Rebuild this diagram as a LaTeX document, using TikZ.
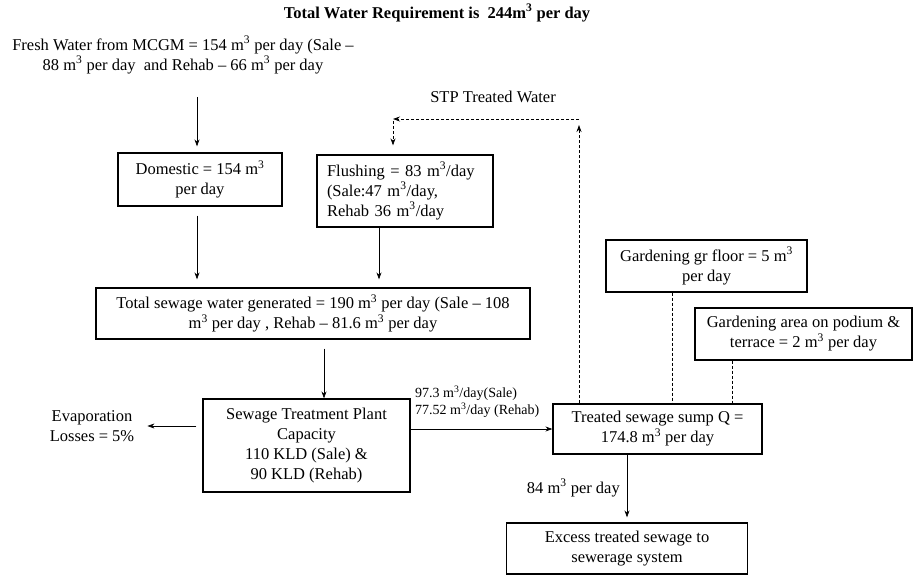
\documentclass[tikz,border=0pt]{standalone}
\usepackage{fontspec}
\setmainfont{Liberation Serif}
\usetikzlibrary{arrows.meta}

\begin{document}
\begin{tikzpicture}[x=1pt,y=-1pt,
  every node/.style={font=\fontsize{16.5}{20}\selectfont},
  box/.style={draw, line width=1.2pt, align=center, inner sep=0pt},
  flow/.style={line width=0.7pt, -{Stealth[length=7pt,width=5pt]}},
  dflow/.style={line width=0.7pt, dash pattern=on 3pt off 2pt, -{Stealth[length=7pt,width=5pt]}},
  dline/.style={line width=0.7pt, dash pattern=on 3pt off 2pt}]

\useasboundingbox (0,0) rectangle (915,575);

\node[font=\fontsize{16.5}{20}\selectfont\bfseries] (nodeTitle) at (437,13) {Total Water Requirement is\ \ 244m\textsuperscript{3} per day};
\node[align=center] (nodeFresh) at (183,55) {Fresh Water from MCGM = 154 m\textsuperscript{3} per day (Sale --\\88 m\textsuperscript{3} per day\ \ and Rehab -- 66 m\textsuperscript{3} per day};
\node (nodeStpWater) at (493,97) {STP Treated Water};

\node[box, minimum width=164pt, minimum height=53pt] (nodeDomestic) at (200,179.5) {Domestic = 154 m\textsuperscript{3}\\per day};
\node[box, align=left, text width=156pt, inner xsep=10pt, minimum height=72pt] (nodeFlushing) at (405,191) {Flushing = 83 m\textsuperscript{3}/day\\(Sale:47 m\textsuperscript{3}/day,\\Rehab 36 m\textsuperscript{3}/day};
\node[box, minimum width=434pt, minimum height=51pt] (nodeTotal) at (313,313.5) {Total sewage water generated = 190 m\textsuperscript{3} per day (Sale -- 108\\m\textsuperscript{3} per day , Rehab -- 81.6 m\textsuperscript{3} per day};
\node[box, minimum width=207pt, minimum height=93pt] (nodeSTP) at (306.5,445.5) {Sewage Treatment Plant\\Capacity\\110 KLD (Sale) \&\\90 KLD (Rehab)};
\node[align=center, inner sep=0pt] (nodeEvap) at (92,426) {Evaporation\\Losses = 5\%};
\node[box, minimum width=209pt, minimum height=50pt] (nodeSump) at (657.5,429) {Treated sewage sump Q =\\174.8 m\textsuperscript{3} per day};
\node[box, minimum width=241pt, minimum height=51pt] (nodeExcess) at (627,548.5) {Excess treated sewage to\\sewerage system};
\node[box, minimum width=201pt, minimum height=52pt] (nodeGarden) at (706.5,266) {Gardening gr floor = 5 m\textsuperscript{3}\\per day};
\node[box, minimum width=217pt, minimum height=52pt] (nodePodium) at (803.5,334) {Gardening area on podium \&\\terrace = 2 m\textsuperscript{3} per day};

\node[font=\fontsize{14}{17}\selectfont, align=left, anchor=west, inner sep=0pt] (nodeFlowLabel) at (415,401.5) {97.3 m\textsuperscript{3}/day(Sale)\\77.52 m\textsuperscript{3}/day (Rehab)};
\node[anchor=east, inner sep=0pt] (nodeExcessLabel) at (620,488) {84 m\textsuperscript{3} per day};

\coordinate (freshOut) at (197,97);
\coordinate (flushOut) at ([xshift=-26pt]nodeFlushing.south);
\coordinate (stpIn) at ([xshift=17.5pt]nodeSTP.north);
\coordinate (stpUp) at ([xshift=-78.5pt]nodeSump.north);
\coordinate (upTip) at (579,125);
\coordinate (cornerR) at (579,119);
\coordinate (cornerL) at (393,119);
\coordinate (gardenOut) at ([xshift=-34.5pt]nodeGarden.south);
\coordinate (podiumOut) at ([xshift=-71.5pt]nodePodium.south);

\draw[flow, shorten >=6pt] (freshOut) -- (freshOut |- nodeDomestic.north);
\draw[flow, shorten <=9pt, shorten >=8pt] (freshOut |- nodeDomestic.south) -- (freshOut |- nodeTotal.north);
\draw[flow, shorten >=8pt] (flushOut) -- (flushOut |- nodeTotal.north);
\draw[flow, shorten <=9pt] (stpIn |- nodeTotal.south) -- (stpIn);
\draw[flow, shorten <=6pt, shorten >=13pt] (nodeSTP.west |- nodeEvap.east) -- (nodeEvap.east);
\draw[flow] (nodeSTP.east |- nodeSump.west) -- (nodeSump.west);
\draw[flow, shorten >=5pt] (nodeExcess.north |- nodeSump.south) -- (nodeExcess.north);

\draw[dflow] (stpUp) -- (upTip);
\draw[dflow] (cornerR) -- (cornerL);
\draw[dflow, shorten <=2pt, shorten >=9pt] (cornerL) -- (cornerL |- nodeFlushing.north);
\draw[dline] (gardenOut) -- (gardenOut |- nodeSump.north);
\draw[dline] (podiumOut) -- (podiumOut |- nodeSump.north);

\end{tikzpicture}
\end{document}
